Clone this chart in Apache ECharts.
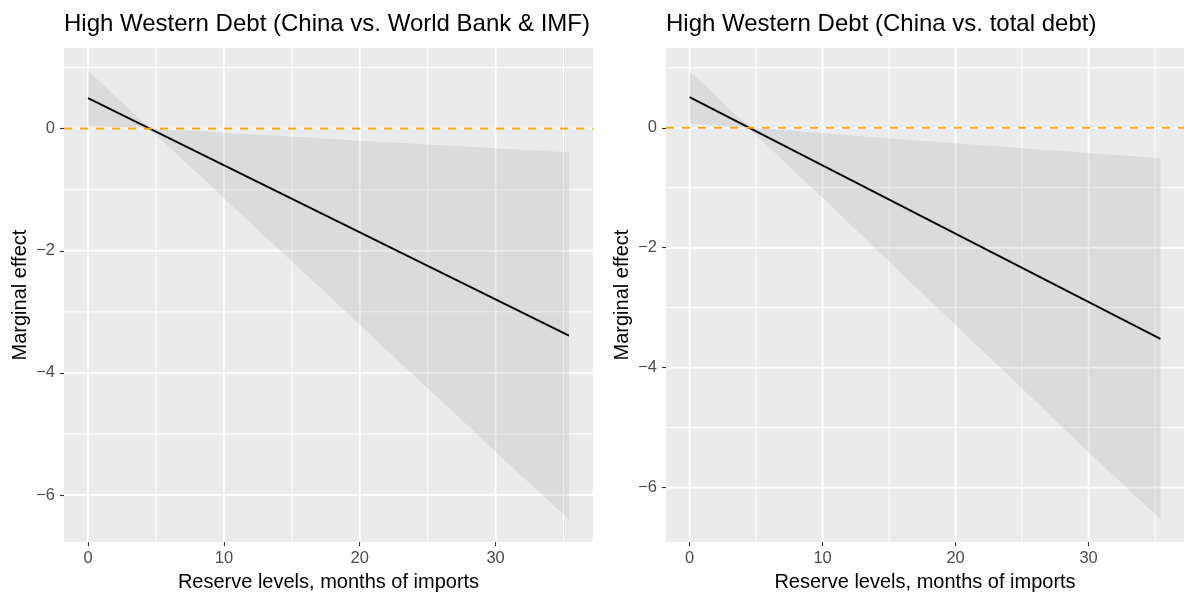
<!DOCTYPE html>
<html>
<head>
<meta charset="utf-8">
<script src="https://cdn.jsdelivr.net/npm/echarts@6/dist/echarts.min.js"></script>
<style>
  html, body { margin: 0; padding: 0; background: #ffffff; }
  #chart { width: 1184px; height: 597px; }
</style>
</head>
<body>
<div id="chart"></div>
<script>
// Marginal effect of high Western debt across reserve levels (months of imports)
const reserveMonths = [0, 1, 2, 3, 4, 4.5, 5, 6, 8, 10, 15, 20, 25, 30, 35.4];

// Panel 1: China vs. World Bank & IMF — 95% band
const wbImfLower = [0.05, 0.04, 0.03, 0.02, 0.00, -0.03, -0.10, -0.31, -0.72, -1.14, -2.17, -3.21, -4.25, -5.29, -6.40];
const wbImfUpper = [0.95, 0.74, 0.53, 0.32, 0.12, 0.03, 0.00, -0.02, -0.04, -0.07, -0.13, -0.20, -0.26, -0.32, -0.39];

// Panel 2: China vs. total debt — 95% band
const totalLower = [0.07, 0.06, 0.04, 0.02, 0.00, -0.03, -0.12, -0.33, -0.75, -1.17, -2.23, -3.29, -4.35, -5.41, -6.53];
const totalUpper = [0.95, 0.74, 0.53, 0.31, 0.11, 0.03, 0.00, -0.02, -0.06, -0.09, -0.18, -0.26, -0.34, -0.42, -0.51];

// Point estimates (straight line between the ends of the reserve range)
const lineX = [0, 35.4];
const wbImfEffect = [0.50, -3.39];
const totalEffect = [0.51, -3.52];

// Tick and grid values
const xMajor = [0, 10, 20, 30];
const xMinor = [5, 15, 25, 35];
const yMajor = [0, -2, -4, -6];
const yMinor = [1, -1, -3, -5];

const panelTitles = [
  'High Western Debt (China vs. World Bank & IMF)',
  'High Western Debt (China vs. total debt)'
];

const FONT = '"Liberation Sans", Arial, Helvetica, sans-serif';
const minusFmt = v => (v < 0 ? '\u2212' + Math.abs(v) : String(v));

function gridLines(idx, values, dim, width) {
  return {
    type: 'custom', xAxisIndex: idx, yAxisIndex: idx, z: 1, silent: true,
    data: values.map(v => (dim === 'x' ? [v, 0] : [0, v])),
    renderItem: (params, api) => {
      const cs = params.coordSys;
      const p = api.coord([api.value(0), api.value(1)]);
      const shape = dim === 'x'
        ? { x1: p[0], y1: cs.y, x2: p[0], y2: cs.y + cs.height }
        : { x1: cs.x, y1: p[1], x2: cs.x + cs.width, y2: p[1] };
      return { type: 'line', shape, style: { stroke: '#ffffff', lineWidth: width } };
    }
  };
}

function ribbon(idx, lower, upper) {
  return {
    type: 'custom', xAxisIndex: idx, yAxisIndex: idx, z: 2, silent: true,
    data: [[reserveMonths[0], lower[0], upper[0]]],
    renderItem: (params, api) => {
      const pts = [];
      for (let i = 0; i < reserveMonths.length; i++) pts.push(api.coord([reserveMonths[i], upper[i]]));
      for (let i = reserveMonths.length - 1; i >= 0; i--) pts.push(api.coord([reserveMonths[i], lower[i]]));
      return { type: 'polygon', shape: { points: pts }, style: { fill: 'rgba(153,153,153,0.2)' } };
    }
  };
}

function zeroLine(idx) {
  return {
    type: 'custom', xAxisIndex: idx, yAxisIndex: idx, z: 4, silent: true,
    data: [[0, 0]],
    renderItem: (params, api) => {
      const cs = params.coordSys;
      const p = api.coord([0, 0]);
      return {
        type: 'line',
        shape: { x1: cs.x, y1: p[1], x2: cs.x + cs.width, y2: p[1] },
        style: { stroke: '#FFA500', lineWidth: 1.9, lineDash: [8, 8] }
      };
    }
  };
}

function effectLine(idx, values) {
  return {
    type: 'line', xAxisIndex: idx, yAxisIndex: idx, z: 3, silent: true,
    symbol: 'none', animation: false,
    data: lineX.map((x, i) => [x, values[i]]),
    lineStyle: { color: '#000000', width: 1.9 }
  };
}

function xAxis(idx) {
  return {
    type: 'value', gridIndex: idx, min: -1.77, max: 37.17,
    axisLine: { show: false, onZero: false },
    splitLine: { show: false },
    axisTick: { show: true, length: 4, lineStyle: { color: '#333333', width: 1.1 }, customValues: xMajor },
    axisLabel: { customValues: xMajor, margin: 8, fontSize: 16.5, color: '#4D4D4D', fontFamily: FONT, formatter: minusFmt },
    name: 'Reserve levels, months of imports',
    nameLocation: 'middle', nameGap: 26.5,
    nameTextStyle: { fontSize: 20, color: '#000000', fontFamily: FONT }
  };
}

function yAxis(idx, min, max) {
  return {
    type: 'value', gridIndex: idx, min, max,
    axisLine: { show: false, onZero: false },
    splitLine: { show: false },
    axisTick: { show: true, length: 4, lineStyle: { color: '#333333', width: 1.1 }, customValues: yMajor },
    axisLabel: { customValues: yMajor, margin: 9, fontSize: 16.5, color: '#4D4D4D', fontFamily: FONT, formatter: minusFmt },
    name: 'Marginal effect',
    nameLocation: 'middle', nameGap: 34,
    nameTextStyle: { fontSize: 20, color: '#000000', fontFamily: FONT }
  };
}

const chart = echarts.init(document.getElementById('chart'), null, { renderer: 'canvas' });

const series = [];
[[wbImfLower, wbImfUpper, wbImfEffect], [totalLower, totalUpper, totalEffect]].forEach((d, idx) => {
  series.push(gridLines(idx, xMinor, 'x', 0.95));
  series.push(gridLines(idx, yMinor, 'y', 0.95));
  series.push(gridLines(idx, xMajor, 'x', 1.9));
  series.push(gridLines(idx, yMajor, 'y', 1.9));
  series.push(ribbon(idx, d[0], d[1]));
  series.push(effectLine(idx, d[2]));
  series.push(zeroLine(idx));
});

chart.setOption({
  animation: false,
  backgroundColor: '#ffffff',
  title: [
    { text: panelTitles[0], left: 64, top: 12, padding: 0,
      textStyle: { fontSize: 24, fontWeight: 'normal', color: '#000000', fontFamily: FONT } },
    { text: panelTitles[1], left: 666, top: 12, padding: 0,
      textStyle: { fontSize: 24, fontWeight: 'normal', color: '#000000', fontFamily: FONT } }
  ],
  grid: [
    { left: 64, top: 48, width: 529, height: 501, show: true, backgroundColor: '#EBEBEB', borderWidth: 0 },
    { left: 666, top: 48, width: 529, height: 501, show: true, backgroundColor: '#EBEBEB', borderWidth: 0 }
  ],
  xAxis: [xAxis(0), xAxis(1)],
  yAxis: [yAxis(0, -6.77, 1.32), yAxis(1, -6.91, 1.33)],
  series
});
</script>
</body>
</html>
